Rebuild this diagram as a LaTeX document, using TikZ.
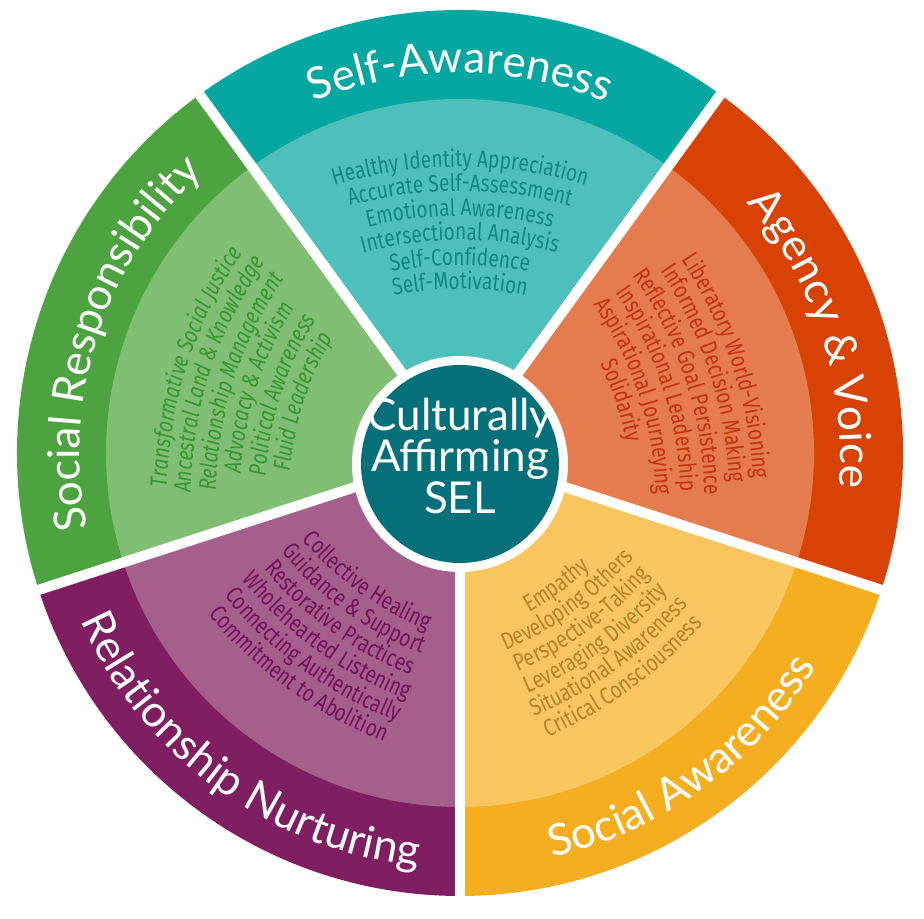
\documentclass[tikz,border=0pt]{standalone}
\usepackage{fontspec}
\usepackage{tikz}
\usetikzlibrary{decorations.text}
\newfontfamily\listfont[FakeStretch=0.8]{Fira Sans}
\newfontfamily\headfont{Lato}
\definecolor{saBand}{HTML}{05A7A0}
\definecolor{saLight}{HTML}{4DC0BB}
\definecolor{saText}{HTML}{0F8883}
\definecolor{avBand}{HTML}{D84305}
\definecolor{avLight}{HTML}{E47C4E}
\definecolor{avText}{HTML}{C2340A}
\definecolor{swBand}{HTML}{F5AE20}
\definecolor{swLight}{HTML}{F8C55E}
\definecolor{swText}{HTML}{B58422}
\definecolor{rnBand}{HTML}{7F1F62}
\definecolor{rnLight}{HTML}{A55F8C}
\definecolor{rnText}{HTML}{74105B}
\definecolor{srBand}{HTML}{4CA33F}
\definecolor{srLight}{HTML}{80BF73}
\definecolor{srText}{HTML}{359630}
\definecolor{centreFill}{HTML}{06707A}
\newcommand{\salist}{\listfont\fontsize{6.8}{7}\selectfont\color{saText}}
\newcommand{\avlist}{\listfont\fontsize{6.8}{7}\selectfont\color{avText}}
\newcommand{\swlist}{\listfont\fontsize{6.8}{7}\selectfont\color{swText}}
\newcommand{\rnlist}{\listfont\fontsize{6.8}{7}\selectfont\color{rnText}}
\newcommand{\srlist}{\listfont\itshape\fontsize{6.8}{7}\selectfont\color{srText}}
\newcommand{\headtxt}{\headfont\fontsize{12.5}{14}\selectfont\color{white}}

\begin{document}
\begin{tikzpicture}
\tikzstyle{every node}+=[inner sep=0pt]
\tikzstyle{gap}=[white, line width=2.9pt]
\tikzstyle{arctext}=[decorate, decoration={text along path, text align=center}]
\useasboundingbox (0,0) rectangle (9.24,9.19);
\begin{scope}[shift={(4.60,4.66)}]
\fill [saBand] (0,0) -- (54:4.43) arc[start angle=54, end angle=126, radius=4.43] -- cycle;
\fill [saLight] (0,0) -- (54:3.54) arc[start angle=54, end angle=126, radius=3.54] -- cycle;
\fill [avBand] (0,0) -- (-18:4.43) arc[start angle=-18, end angle=54, radius=4.43] -- cycle;
\fill [avLight] (0,0) -- (-18:3.54) arc[start angle=-18, end angle=54, radius=3.54] -- cycle;
\fill [swBand] (0,0) -- (-90:4.43) arc[start angle=-90, end angle=-18, radius=4.43] -- cycle;
\fill [swLight] (0,0) -- (-90:3.54) arc[start angle=-90, end angle=-18, radius=3.54] -- cycle;
\fill [rnBand] (0,0) -- (198:4.43) arc[start angle=198, end angle=270, radius=4.43] -- cycle;
\fill [rnLight] (0,0) -- (198:3.54) arc[start angle=198, end angle=270, radius=3.54] -- cycle;
\fill [srBand] (0,0) -- (126:4.43) arc[start angle=126, end angle=198, radius=4.43] -- cycle;
\fill [srLight] (0,0) -- (126:3.54) arc[start angle=126, end angle=198, radius=3.54] -- cycle;
\draw [gap] (0,0) -- (54:4.6);
\draw [gap] (0,0) -- (126:4.6);
\draw [gap] (0,0) -- (198:4.6);
\draw [gap] (0,0) -- (270:4.6);
\draw [gap] (0,0) -- (-18:4.6);
\begin{scope}[rotate=0]
\path [arctext, decoration={text={|\headtxt|Self-Awareness}}] (135:3.80) arc[start angle=135, end angle=45, radius=3.80];
\path [arctext, shift={(0,-1.5)}, decoration={text={|\salist|Healthy Identity Appreciation}}] (120:4.36) arc[start angle=120, end angle=60, radius=4.36];
\path [arctext, shift={(0,-1.5)}, decoration={text={|\salist|Accurate Self-Assessment}}] (120:4.12) arc[start angle=120, end angle=60, radius=4.12];
\path [arctext, shift={(0,-1.5)}, decoration={text={|\salist|Emotional Awareness}}] (120:3.87) arc[start angle=120, end angle=60, radius=3.87];
\path [arctext, shift={(0,-1.5)}, decoration={text={|\salist|Intersectional Analysis}}] (120:3.63) arc[start angle=120, end angle=60, radius=3.63];
\path [arctext, shift={(0,-1.5)}, decoration={text={|\salist|Self-Confidence}}] (120:3.38) arc[start angle=120, end angle=60, radius=3.38];
\path [arctext, shift={(0,-1.5)}, decoration={text={|\salist|Self-Motivation}}] (120:3.14) arc[start angle=120, end angle=60, radius=3.14];
\end{scope}
\begin{scope}[rotate=-72]
\path [arctext, decoration={text={|\headtxt|Agency {\&} Voice}}] (135:3.80) arc[start angle=135, end angle=45, radius=3.80];
\path [arctext, shift={(0,-1.5)}, decoration={text={|\avlist|Liberatory World-Visioning}}] (120:4.36) arc[start angle=120, end angle=60, radius=4.36];
\path [arctext, shift={(0,-1.5)}, decoration={text={|\avlist|Informed Decision Making}}] (120:4.12) arc[start angle=120, end angle=60, radius=4.12];
\path [arctext, shift={(0,-1.5)}, decoration={text={|\avlist|Reflective Goal Persistence}}] (120:3.87) arc[start angle=120, end angle=60, radius=3.87];
\path [arctext, shift={(0,-1.5)}, decoration={text={|\avlist|Inspirational Leadership}}] (120:3.63) arc[start angle=120, end angle=60, radius=3.63];
\path [arctext, shift={(0,-1.5)}, decoration={text={|\avlist|Aspirational Journeying}}] (120:3.38) arc[start angle=120, end angle=60, radius=3.38];
\path [arctext, shift={(0,-1.5)}, decoration={text={|\avlist|Solidarity}}] (120:3.14) arc[start angle=120, end angle=60, radius=3.14];
\end{scope}
\begin{scope}[rotate=72]
\path [arctext, decoration={text={|\headtxt|Social Responsibility}}] (135:3.80) arc[start angle=135, end angle=45, radius=3.80];
\path [arctext, shift={(0,-1.5)}, decoration={text={|\srlist|Transformative Social Justice}}] (120:4.36) arc[start angle=120, end angle=60, radius=4.36];
\path [arctext, shift={(0,-1.5)}, decoration={text={|\srlist|Ancestral Land {\&} Knowledge}}] (120:4.12) arc[start angle=120, end angle=60, radius=4.12];
\path [arctext, shift={(0,-1.5)}, decoration={text={|\srlist|Relationship Management}}] (120:3.87) arc[start angle=120, end angle=60, radius=3.87];
\path [arctext, shift={(0,-1.5)}, decoration={text={|\srlist|Advocacy {\&} Activism}}] (120:3.63) arc[start angle=120, end angle=60, radius=3.63];
\path [arctext, shift={(0,-1.5)}, decoration={text={|\srlist|Political Awareness}}] (120:3.38) arc[start angle=120, end angle=60, radius=3.38];
\path [arctext, shift={(0,-1.5)}, decoration={text={|\srlist|Fluid Leadership}}] (120:3.14) arc[start angle=120, end angle=60, radius=3.14];
\end{scope}
\begin{scope}[rotate=36]
\path [arctext, decoration={text={|\headtxt|Social Awareness}}] (225:4.15) arc[start angle=225, end angle=315, radius=4.15];
\path [arctext, shift={(0,1.5)}, decoration={text={|\swlist|Empathy}}] (240:3.22) arc[start angle=240, end angle=300, radius=3.22];
\path [arctext, shift={(0,1.5)}, decoration={text={|\swlist|Developing Others}}] (240:3.46) arc[start angle=240, end angle=300, radius=3.46];
\path [arctext, shift={(0,1.5)}, decoration={text={|\swlist|Perspective-Taking}}] (240:3.70) arc[start angle=240, end angle=300, radius=3.70];
\path [arctext, shift={(0,1.5)}, decoration={text={|\swlist|Leveraging Diversity}}] (240:3.94) arc[start angle=240, end angle=300, radius=3.94];
\path [arctext, shift={(0,1.5)}, decoration={text={|\swlist|Situational Awareness}}] (240:4.18) arc[start angle=240, end angle=300, radius=4.18];
\path [arctext, shift={(0,1.5)}, decoration={text={|\swlist|Critical Consciousness}}] (240:4.42) arc[start angle=240, end angle=300, radius=4.42];
\end{scope}
\begin{scope}[rotate=-36]
\path [arctext, decoration={text={|\headtxt|Relationship Nurturing}}] (225:4.15) arc[start angle=225, end angle=315, radius=4.15];
\path [arctext, shift={(0,1.5)}, decoration={text={|\rnlist|Collective Healing}}] (240:3.22) arc[start angle=240, end angle=300, radius=3.22];
\path [arctext, shift={(0,1.5)}, decoration={text={|\rnlist|Guidance {\&} Support}}] (240:3.46) arc[start angle=240, end angle=300, radius=3.46];
\path [arctext, shift={(0,1.5)}, decoration={text={|\rnlist|Restorative Practices}}] (240:3.70) arc[start angle=240, end angle=300, radius=3.70];
\path [arctext, shift={(0,1.5)}, decoration={text={|\rnlist|Wholehearted Listening}}] (240:3.94) arc[start angle=240, end angle=300, radius=3.94];
\path [arctext, shift={(0,1.5)}, decoration={text={|\rnlist|Connecting Authentically}}] (240:4.18) arc[start angle=240, end angle=300, radius=4.18];
\path [arctext, shift={(0,1.5)}, decoration={text={|\rnlist|Commitment to Abolition}}] (240:4.42) arc[start angle=240, end angle=300, radius=4.42];
\end{scope}
\end{scope}
\fill [white] (4.60,4.55) circle (1.08);
\fill [centreFill] (4.60,4.55) circle (0.99);
\node [text=white, align=center, font=\headfont\fontsize{12.5}{14}\selectfont] (centre) at (4.60,4.63) {Culturally\\[-2.2pt]Affirming\\[-2.2pt]SEL};
\end{tikzpicture}
\end{document}
